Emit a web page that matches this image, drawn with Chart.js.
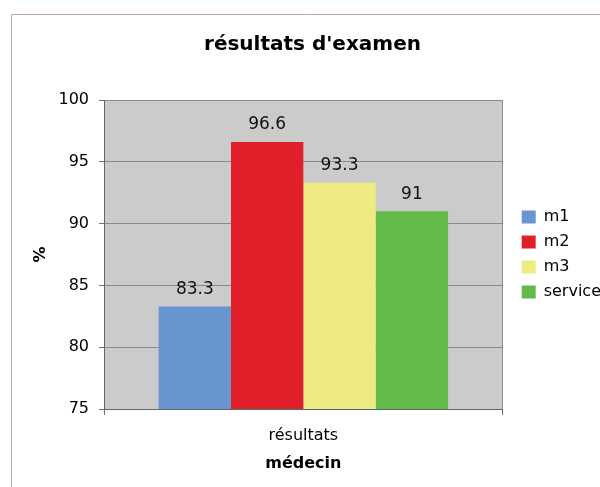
<!DOCTYPE html>
<html>
<head>
<meta charset="utf-8">
<title>résultats d'examen</title>
<script src="https://cdn.jsdelivr.net/npm/chart.js@4.4.1/dist/chart.umd.min.js"></script>
<style>
  html, body { margin: 0; padding: 0; background: #fff; }
  #wrap { width: 600px; height: 487px; position: relative; }
</style>
</head>
<body>
<div id="wrap"><canvas id="examChart"></canvas></div>
<script>
// données
const categories = ['résultats'];
const seriesNames = ['m1', 'm2', 'm3', 'service'];
const m1Values = [83.3];
const m2Values = [96.6];
const m3Values = [93.3];
const serviceValues = [91];
const yTicks = [75, 80, 85, 90, 95, 100];

const seriesColors = ['#6895cf', '#e01f2b', '#eeeb83', '#62bb48'];
const FONT = "'DejaVu Sans', Verdana, sans-serif";

// fond, cadre et zone grise
const backgroundPlugin = {
    id: 'background',
    beforeDraw(chart) {
        const ctx = chart.ctx;
        const area = chart.chartArea;
        ctx.save();
        ctx.fillStyle = '#fff';
        ctx.fillRect(0, 0, chart.width, chart.height);
        ctx.strokeStyle = '#c4a4a2';
        ctx.lineWidth = 1;
        ctx.beginPath();
        ctx.moveTo(11.5, chart.height);
        ctx.lineTo(11.5, 14.5);
        ctx.lineTo(chart.width, 14.5);
        ctx.stroke();
        ctx.fillStyle = '#cbcbcb';
        ctx.fillRect(area.left, area.top, area.right - area.left, area.bottom - area.top);
        ctx.restore();
    },
    afterLayout(chart) {
        // décale la légende vers la droite
        chart.legend.left += 10;
        chart.legend.right += 10;
    }
};

// valeurs au-dessus des barres
const valueLabels = {
    id: 'valueLabels',
    afterDatasetsDraw(chart) {
        const ctx = chart.ctx;
        ctx.save();
        ctx.font = '17px ' + FONT;
        ctx.fillStyle = '#111';
        ctx.textAlign = 'center';
        ctx.textBaseline = 'middle';
        chart.data.datasets.forEach((ds, i) => {
            chart.getDatasetMeta(i).data.forEach((bar, j) => {
                ctx.fillText(String(ds.data[j]), bar.x, bar.y - 17);
            });
        });
        ctx.restore();
    }
};

const allValues = [m1Values, m2Values, m3Values, serviceValues];

new Chart(document.getElementById('examChart'), {
    type: 'bar',
    data: {
        labels: categories,
        datasets: seriesNames.map((name, i) => ({
            label: name,
            data: allValues[i],
            backgroundColor: seriesColors[i],
            borderWidth: 0,
            barPercentage: 1,
            categoryPercentage: 0.726
        }))
    },
    options: {
        responsive: true,
        maintainAspectRatio: false,
        devicePixelRatio: 1,
        animation: false,
        layout: { padding: { left: 24, right: -1, top: 0, bottom: 0 } },
        plugins: {
            title: {
                display: true,
                text: "résultats d'examen",
                color: '#000',
                font: { family: FONT, size: 20, weight: 'bold' },
                padding: { top: 33, bottom: 43 }
            },
            legend: {
                position: 'right',
                fullSize: false,
                labels: {
                    color: '#000',
                    font: { family: FONT, size: 16 },
                    boxWidth: 14,
                    boxHeight: 13,
                    padding: 9
                }
            },
            tooltip: { enabled: false }
        },
        scales: {
            x: {
                afterFit: (scale) => { scale.height = 78; },
                grid: {
                    display: true,
                    offset: true,
                    color: '#8a8a8a',
                    tickColor: '#6a747c',
                    tickLength: 6
                },
                border: { display: true, color: '#5c6870' },
                ticks: {
                    color: '#000',
                    padding: 11,
                    font: { family: FONT, size: 16 }
                },
                title: {
                    display: true,
                    text: 'médecin',
                    color: '#000',
                    font: { family: FONT, size: 16, weight: 'bold' },
                    padding: { top: 8, bottom: 14 }
                }
            },
            y: {
                min: yTicks[0],
                max: yTicks[yTicks.length - 1],
                afterFit: (scale) => { scale.width = 80; },
                afterBuildTicks: (scale) => { scale.ticks = yTicks.map(v => ({ value: v })); },
                grid: {
                    color: '#8a8a8a',
                    tickColor: '#6a747c',
                    tickLength: 5
                },
                border: { display: true, color: '#5c6870' },
                ticks: {
                    color: '#000',
                    padding: 10,
                    font: { family: FONT, size: 16 }
                },
                title: {
                    display: true,
                    text: '%',
                    color: '#000',
                    font: { family: FONT, size: 16, weight: 'bold' },
                    padding: { top: 7, bottom: 0 }
                }
            }
        }
    },
    plugins: [backgroundPlugin, valueLabels]
});
</script>
</body>
</html>
